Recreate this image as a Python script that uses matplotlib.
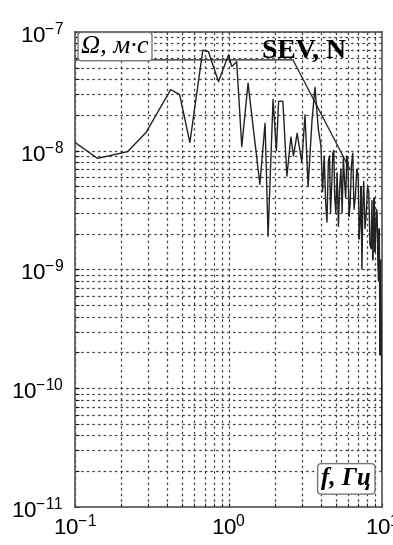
import matplotlib
matplotlib.use('Agg')
import matplotlib.pyplot as plt
from matplotlib.ticker import LogLocator, FixedLocator, NullFormatter

plt.rcParams['font.family'] = ['Liberation Sans', 'DejaVu Sans']
plt.rcParams['mathtext.default'] = 'regular'

# spectrum (f in Hz, amplitude in m*s)
freq = [0.10, 0.14, 0.22, 0.29, 0.42, 0.48, 0.56, 0.68, 0.74, 0.86,
        1.00, 1.05, 1.13, 1.22, 1.34, 1.60, 1.73, 1.81, 1.95, 2.05,
        2.12, 2.26, 2.40, 2.55, 2.65, 2.80, 3.00, 3.15, 3.30, 3.50,
        3.66, 3.85, 4.00, 4.10, 4.20, 4.30, 4.38, 4.47, 4.55, 4.62,
        4.70, 4.78, 4.85, 4.92, 5.00, 5.10, 5.20, 5.30, 5.40, 5.50,
        5.60, 5.70, 5.80, 5.90, 6.00, 6.10, 6.20, 6.32, 6.45, 6.57,
        6.70, 6.85, 7.00, 7.10, 7.20, 7.30, 7.40, 7.50, 7.60, 7.75,
        7.90, 8.05, 8.20, 8.35, 8.50, 8.60, 8.70, 8.80, 8.90, 9.00,
        9.10, 9.20, 9.30, 9.40, 9.50, 9.60, 9.70, 9.78, 9.85, 9.92,
        10.0]
amp = [1.17e-8, 8.6e-9, 9.8e-9, 1.42e-8, 3.26e-8, 2.96e-8, 1.17e-8, 7.0e-8, 6.8e-8, 3.8e-8,
       6.4e-8, 5.1e-8, 5.6e-8, 1.08e-8, 3.7e-8, 5.2e-9, 1.7e-8, 1.9e-9, 2.7e-8, 1.0e-8,
       2.6e-8, 2.6e-8, 6.1e-9, 1.3e-8, 9.0e-9, 1.4e-8, 8.0e-9, 2.0e-8, 5.0e-9, 1.8e-8,
       3.4e-8, 1.5e-8, 1.1e-8, 4.5e-9, 9.0e-9, 3.5e-9, 2.5e-9, 8.0e-9, 9.0e-9, 3.0e-9,
       5.0e-9, 9.5e-9, 1.0e-8, 4.0e-9, 3.0e-9, 6.5e-9, 2.3e-9, 5.0e-9, 7.0e-9, 3.0e-9,
       8.9e-9, 5.5e-9, 4.0e-9, 9.0e-9, 8.0e-9, 2.8e-9, 3.5e-9, 7.5e-9, 9.5e-9, 3.2e-9,
       4.0e-9, 7.0e-9, 6.0e-9, 1.8e-9, 2.5e-9, 5.0e-9, 1.0e-9, 3.5e-9, 5.5e-9, 2.2e-9,
       3.0e-9, 5.0e-9, 4.5e-9, 1.6e-9, 1.5e-9, 3.8e-9, 1.2e-9, 2.5e-9, 4.0e-9, 1.4e-9,
       2.0e-9, 3.2e-9, 3.0e-9, 1.1e-9, 8.0e-10, 2.2e-9, 1.9e-10, 1.2e-9, 5.0e-10, 2.5e-10,
       2.0e-11]

# model spectrum: flat level then a fall-off
model_f = [0.1, 2.63, 6.2]
model_a = [5.8e-8, 5.8e-8, 6.9e-9]

xticks = [0.1, 1, 10]
xlabels = ['$10^{-1}$', '$10^{0}$', '$10^{1}$']
yticks = [1e-11, 1e-10, 1e-9, 1e-8, 1e-7]
ylabels = ['$10^{-11}$', '$10^{-10}$', '$10^{-9}$', '$10^{-8}$', '$10^{-7}$']

fig = plt.figure(figsize=(3.93, 5.45), dpi=100)
ax = fig.add_axes([0.191, 0.0697, 0.781, 0.872])

ax.set_xscale('log')
ax.set_yscale('log')
ax.set_xlim(0.1, 10)
ax.set_ylim(1e-11, 1e-7)

ax.plot(model_f, model_a, color='#333333', lw=1.0, zorder=3)
ax.plot(freq, amp, color='#222222', lw=1.0, zorder=3)

ax.xaxis.set_major_locator(FixedLocator(xticks))
ax.set_xticklabels(xlabels)
ax.yaxis.set_major_locator(FixedLocator(yticks))
ax.set_yticklabels(ylabels)
ax.xaxis.set_minor_locator(LogLocator(base=10, subs=range(2, 10)))
ax.yaxis.set_minor_locator(LogLocator(base=10, subs=range(2, 10)))
ax.xaxis.set_minor_formatter(NullFormatter())
ax.yaxis.set_minor_formatter(NullFormatter())

ax.grid(True, which='both', color='#444444', ls=(0, (2, 2.5)), lw=0.9)
ax.tick_params(which='both', direction='in', length=3, labelsize=16)
ax.tick_params(axis='x', pad=5)
ax.tick_params(axis='y', pad=8)
for s in ax.spines.values():
    s.set_color('#555555')
    s.set_linewidth(1.2)

ax.text(0.02, 0.992, 'Ω, м·с', transform=ax.transAxes, ha='left', va='top',
        family='Liberation Serif', style='italic', fontsize=19, zorder=5,
        bbox=dict(boxstyle='round,pad=0.12', fc='white', ec='#777777', lw=1))
ax.text(0.745, 0.96, 'SEV, N', transform=ax.transAxes, ha='center', va='center',
        family='Liberation Serif', weight='bold', fontsize=20, zorder=5)
ax.text(0.965, 0.035, 'f, Гц', transform=ax.transAxes, ha='right', va='bottom',
        family='Liberation Serif', style='italic', weight='bold', fontsize=18, zorder=5,
        bbox=dict(boxstyle='round,pad=0.15', fc='white', ec='#777777', lw=1))

fig.savefig('out.png', dpi=100)
